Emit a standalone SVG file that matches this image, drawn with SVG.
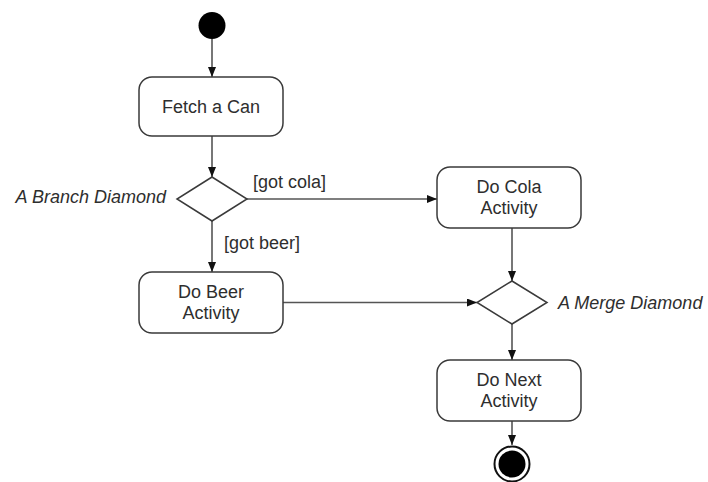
<svg xmlns="http://www.w3.org/2000/svg" width="708" height="482" viewBox="0 0 708 482">
  <style>
    .act { fill: #ffffff; stroke: #3a3a3a; stroke-width: 1.5; }
    .dia { fill: #ffffff; stroke: #3a3a3a; stroke-width: 1.5; }
    .edge { fill: none; stroke: #555555; stroke-width: 1.6; marker-end: url(#arrow); }
    .lbl { font-family: "Liberation Sans", Arial, sans-serif; font-size: 18px; fill: #2e2e2e; }
    .mid { text-anchor: middle; }
    .it { font-style: italic; }
  </style>
  <defs>
    <marker id="arrow" markerUnits="userSpaceOnUse" markerWidth="10" markerHeight="8" refX="10" refY="4" orient="auto">
      <path d="M0,0 L10,4 L0,8 z" fill="#111111"/>
    </marker>
  </defs>

  <rect width="708" height="482" fill="#ffffff"/>

  <!-- connectors -->
  <g id="connectors">
    <line class="edge" x1="212" y1="39" x2="212" y2="77"/>
    <line class="edge" x1="212" y1="136" x2="212" y2="177"/>
    <line class="edge" x1="212" y1="221" x2="212" y2="272"/>
    <line class="edge" x1="247" y1="199" x2="437" y2="199"/>
    <line class="edge" x1="512" y1="228" x2="512" y2="281"/>
    <line class="edge" x1="282" y1="302.5" x2="477" y2="302.5"/>
    <line class="edge" x1="512" y1="324" x2="512" y2="360"/>
    <line class="edge" x1="512" y1="421" x2="512" y2="445"/>
    <text class="lbl" x="253" y="188">[got cola]</text>
    <text class="lbl" x="224" y="249">[got beer]</text>
  </g>

  <!-- initial node -->
  <g id="start">
    <circle cx="212" cy="25.5" r="13.5" fill="#000000"/>
  </g>

  <g id="fetch">
    <rect class="act" x="139" y="77" width="144" height="59" rx="13"/>
    <text class="lbl mid" x="211" y="113">Fetch a Can</text>
  </g>

  <g id="branch">
    <polygon class="dia" points="212,177 247,199 212,221 177,199"/>
    <text class="lbl it" x="166" y="203" text-anchor="end">A Branch Diamond</text>
  </g>

  <g id="cola">
    <rect class="act" x="437" y="167" width="144" height="61" rx="13"/>
    <text class="lbl mid" x="509" y="193">Do Cola</text>
    <text class="lbl mid" x="509" y="214">Activity</text>
  </g>

  <g id="beer">
    <rect class="act" x="139" y="272" width="144" height="61" rx="13"/>
    <text class="lbl mid" x="211" y="298">Do Beer</text>
    <text class="lbl mid" x="211" y="319">Activity</text>
  </g>

  <g id="merge">
    <polygon class="dia" points="512,281 547,302.5 512,324 477,302.5"/>
    <text class="lbl it" x="558" y="309">A Merge Diamond</text>
  </g>

  <g id="next">
    <rect class="act" x="437" y="360" width="144" height="61" rx="13"/>
    <text class="lbl mid" x="509" y="386">Do Next</text>
    <text class="lbl mid" x="509" y="407">Activity</text>
  </g>

  <!-- final node -->
  <g id="end">
    <circle cx="512" cy="464" r="17.5" fill="#ffffff" stroke="#111111" stroke-width="2"/>
    <circle cx="512" cy="464" r="13.5" fill="#000000"/>
  </g>
</svg>
